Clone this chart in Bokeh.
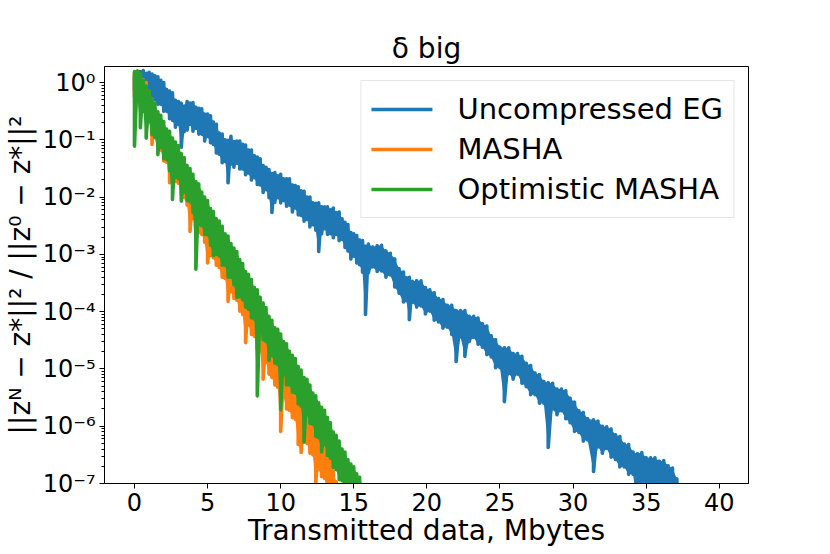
from bokeh.plotting import figure
from bokeh.models import Range1d, FixedTicker, CustomJSTickFormatter, Legend, LegendItem
from bokeh.embed import file_html
from bokeh.resources import INLINE

# ---------------- data ----------------
# y values are given as log10 of the relative error; each x has an upper and a lower
# value of the noisy trace (the noise band); spikes appear as deep lower values.
blue_x = [0.0, 0.2, 0.4, 0.6, 0.8, 1.0, 1.2, 1.4, 1.6, 1.8,
          2.0, 2.2, 2.4, 2.6, 2.8, 3.0, 3.2, 3.4, 3.6, 3.8,
          4.0, 4.2, 4.4, 4.6, 4.8, 5.0, 5.2, 5.4, 5.6, 5.8,
          6.0, 6.2, 6.4, 6.6, 6.8, 7.0, 7.2, 7.4, 7.6, 7.8,
          8.0, 8.2, 8.4, 8.6, 8.8, 9.0, 9.2, 9.4, 9.6, 9.8,
          10.0, 10.2, 10.4, 10.6, 10.8, 11.0, 11.2, 11.4, 11.6, 11.8,
          12.0, 12.2, 12.4, 12.6, 12.8, 13.0, 13.2, 13.4, 13.6, 13.8,
          14.0, 14.2, 14.4, 14.6, 14.8, 15.0, 15.2, 15.4, 15.6, 15.8,
          16.0, 16.3, 16.6, 16.9, 17.2, 17.5, 17.8, 18.1, 18.4, 18.6,
          18.8, 19.0, 19.3, 19.6, 19.9, 20.2, 20.5, 20.8, 21.1, 21.4,
          21.7, 22.0, 22.3, 22.6, 22.9, 23.2, 23.5, 23.8, 24.1, 24.4,
          24.7, 25.0, 25.3, 25.6, 25.9, 26.2, 26.5, 26.8, 27.1, 27.4,
          27.7, 28.0, 28.3, 28.6, 28.9, 29.2, 29.5, 29.8, 30.1, 30.4,
          30.7, 31.0, 31.4, 31.7, 32.0, 32.3, 32.6, 32.9, 33.2, 33.5,
          33.8, 34.1, 34.4, 34.7, 35.0, 35.3, 35.6, 35.9, 36.2, 36.5,
          36.8, 37.1, 37.3]
blue_hi_log10 = [0.10, 0.15, 0.19, 0.21, 0.16, 0.18, 0.15, 0.12, 0.10, 0.04,
                 0.00, -0.12, -0.15, -0.18, -0.31, -0.33, -0.36, -0.41, -0.33, -0.36,
                 -0.35, -0.43, -0.45, -0.46, -0.55, -0.55, -0.58, -0.69, -0.73, -0.88,
                 -0.90, -1.00, -1.01, -0.94, -1.03, -1.02, -1.02, -1.08, -1.09, -1.18,
                 -1.18, -1.28, -1.30, -1.33, -1.45, -1.48, -1.52, -1.59, -1.57, -1.63,
                 -1.60, -1.68, -1.68, -1.68, -1.79, -1.80, -1.82, -1.89, -1.90, -2.00,
                 -2.00, -2.10, -2.11, -2.10, -2.17, -2.17, -2.17, -2.22, -2.19, -2.27,
                 -2.26, -2.38, -2.44, -2.48, -2.62, -2.64, -2.67, -2.75, -2.76, -2.86,
                 -2.82, -2.87, -2.85, -2.84, -2.94, -2.98, -3.08, -3.25, -3.31, -3.41,
                 -3.40, -3.47, -3.46, -3.46, -3.58, -3.62, -3.67, -3.77, -3.79, -3.89,
                 -3.89, -3.98, -3.98, -3.98, -4.08, -4.08, -4.11, -4.21, -4.25, -4.42,
                 -4.49, -4.62, -4.63, -4.63, -4.73, -4.73, -4.78, -4.90, -4.94, -5.07,
                 -5.10, -5.22, -5.24, -5.25, -5.35, -5.35, -5.38, -5.51, -5.58, -5.73,
                 -5.76, -5.87, -5.89, -5.91, -6.00, -6.01, -6.05, -6.15, -6.18, -6.31,
                 -6.32, -6.45, -6.48, -6.46, -6.55, -6.55, -6.55, -6.61, -6.60, -6.69,
                 -6.73, -6.92, -7.04]
blue_lo_log10 = [-0.12, -0.06, -0.16, -0.18, -0.25, -0.20, -0.28, -0.30, -0.38, -0.38,
                 -0.50, -0.50, -0.63, -0.66, -0.78, -0.73, -1.13, -0.86, -0.83, -0.73,
                 -0.85, -0.80, -0.90, -0.90, -1.02, -0.94, -1.05, -1.08, -1.23, -1.25,
                 -1.40, -1.38, -1.75, -1.42, -1.48, -1.41, -1.51, -1.51, -1.61, -1.58,
                 -1.70, -1.66, -1.78, -1.79, -1.92, -1.87, -2.01, -2.27, -2.09, -2.01,
                 -2.10, -2.06, -2.16, -2.14, -2.26, -2.19, -2.31, -2.32, -2.42, -2.39,
                 -2.52, -2.48, -2.58, -2.95, -2.64, -2.55, -2.65, -2.64, -2.71, -2.65,
                 -2.76, -2.74, -2.88, -2.94, -3.08, -3.03, -3.15, -3.18, -3.31, -4.05,
                 -3.32, -3.22, -3.30, -3.29, -3.40, -3.36, -3.57, -3.68, -3.83, -3.81,
                 -4.14, -3.84, -3.92, -3.90, -4.04, -3.99, -4.15, -4.18, -4.29, -4.27,
                 -4.40, -4.87, -4.44, -4.78, -4.52, -4.45, -4.57, -4.62, -4.75, -4.79,
                 -4.98, -4.98, -5.57, -5.08, -5.18, -5.09, -5.25, -5.31, -5.45, -5.45,
                 -5.60, -5.60, -6.37, -5.70, -5.80, -5.73, -5.87, -5.94, -6.09, -6.11,
                 -6.26, -6.24, -6.79, -6.36, -6.47, -6.39, -6.54, -6.58, -6.71, -6.71,
                 -6.84, -6.84, -7.40, -6.96, -7.07, -6.99, -7.11, -7.11, -7.21, -7.18,
                 -7.26, -7.30, -7.40]

orange_x = [0.0, 0.2, 0.4, 0.6, 0.8, 1.0, 1.2, 1.4, 1.6, 1.8,
            2.0, 2.2, 2.4, 2.6, 2.8, 3.0, 3.2, 3.4, 3.6, 3.8,
            4.0, 4.2, 4.4, 4.6, 4.8, 5.0, 5.2, 5.4, 5.6, 5.8,
            6.0, 6.2, 6.4, 6.6, 6.8, 7.0, 7.2, 7.4, 7.6, 7.8,
            8.0, 8.2, 8.4, 8.6, 8.8, 9.0, 9.2, 9.4, 9.6, 9.8,
            10.0, 10.2, 10.4, 10.6, 10.8, 11.0, 11.2, 11.4, 11.6, 11.8,
            12.0, 12.2, 12.4, 12.6, 12.8, 13.0, 13.2, 13.4, 13.6, 13.8]
orange_hi_log10 = [0.16, 0.20, 0.14, 0.05, 0.00, -0.16, -0.29, -0.45, -0.55, -0.66,
                   -0.82, -0.88, -0.99, -1.11, -1.15, -1.28, -1.34, -1.50, -1.59, -1.69,
                   -1.84, -1.90, -2.02, -2.16, -2.22, -2.35, -2.41, -2.55, -2.63, -2.72,
                   -2.85, -2.90, -3.02, -3.14, -3.18, -3.31, -3.36, -3.52, -3.61, -3.70,
                   -3.83, -3.90, -4.02, -4.15, -4.22, -4.37, -4.44, -4.60, -4.68, -4.76,
                   -4.88, -4.94, -5.06, -5.19, -5.23, -5.36, -5.42, -5.57, -5.65, -5.73,
                   -5.87, -5.94, -6.07, -6.20, -6.25, -6.36, -6.42, -6.62, -6.78, -6.97]
orange_lo_log10 = [-0.25, -0.30, -0.42, -0.45, -0.58, -0.66, -1.08, -0.96, -1.12, -1.18,
                   -1.37, -1.39, -1.75, -1.60, -1.73, -1.76, -1.96, -2.01, -2.14, -2.60,
                   -2.37, -2.39, -2.62, -2.65, -2.79, -3.15, -3.02, -3.06, -3.19, -3.23,
                   -3.40, -3.42, -3.82, -3.65, -3.77, -3.80, -3.99, -4.05, -4.54, -4.23,
                   -4.40, -4.43, -4.65, -4.68, -5.18, -4.88, -5.09, -5.15, -5.28, -5.32,
                   -6.09, -5.49, -5.70, -5.72, -5.85, -5.88, -6.32, -6.46, -6.26, -6.30,
                   -6.47, -6.50, -7.00, -6.75, -6.88, -6.91, -7.11, -7.16, -7.34, -7.38]

green_x = [0.0, 0.2, 0.4, 0.6, 0.8, 1.0, 1.2, 1.4, 1.6, 1.8,
           2.0, 2.2, 2.4, 2.6, 2.8, 3.0, 3.2, 3.4, 3.6, 3.8,
           4.0, 4.2, 4.4, 4.6, 4.8, 5.0, 5.2, 5.4, 5.6, 5.8,
           6.0, 6.2, 6.4, 6.6, 6.8, 7.0, 7.2, 7.4, 7.6, 7.8,
           8.0, 8.2, 8.4, 8.6, 8.8, 9.0, 9.2, 9.4, 9.6, 9.8,
           10.0, 10.2, 10.4, 10.6, 10.8, 11.0, 11.2, 11.4, 11.6, 11.8,
           12.0, 12.2, 12.4, 12.6, 12.8, 13.0, 13.2, 13.4, 13.6, 13.8,
           14.0, 14.2, 14.4, 14.6, 14.8, 15.0, 15.2, 15.4, 15.6]
green_hi_log10 = [0.19, 0.20, 0.15, 0.04, -0.06, -0.14, -0.29, -0.36, -0.51, -0.57,
                  -0.68, -0.81, -0.85, -0.97, -1.04, -1.10, -1.24, -1.31, -1.45, -1.50,
                  -1.60, -1.73, -1.77, -1.91, -2.00, -2.06, -2.20, -2.25, -2.38, -2.42,
                  -2.51, -2.64, -2.68, -2.81, -2.89, -2.95, -3.09, -3.16, -3.30, -3.35,
                  -3.44, -3.58, -3.62, -3.75, -3.85, -3.93, -4.08, -4.15, -4.28, -4.31,
                  -4.39, -4.52, -4.56, -4.69, -4.76, -4.82, -4.96, -5.02, -5.15, -5.18,
                  -5.28, -5.42, -5.47, -5.59, -5.67, -5.72, -5.85, -5.94, -6.10, -6.16,
                  -6.26, -6.40, -6.45, -6.58, -6.66, -6.71, -6.83, -6.89, -7.03]
green_lo_log10 = [-1.11, -0.22, -0.79, -0.50, -0.97, -0.68, -0.91, -0.96, -1.26, -1.13,
                  -1.33, -1.35, -1.54, -2.04, -1.65, -1.68, -2.07, -1.91, -2.06, -2.08,
                  -2.27, -3.26, -2.48, -2.50, -2.65, -2.66, -2.84, -3.02, -3.00, -3.03,
                  -3.19, -3.19, -3.40, -3.40, -3.53, -3.75, -3.74, -3.79, -3.92, -3.96,
                  -4.11, -4.13, -5.47, -4.35, -4.49, -4.52, -4.85, -4.77, -4.90, -4.92,
                  -5.71, -5.07, -5.28, -5.28, -5.41, -5.42, -5.61, -5.65, -6.28, -5.80,
                  -5.95, -5.97, -6.18, -6.20, -6.45, -6.32, -6.51, -6.56, -6.72, -6.76,
                  -6.93, -6.95, -7.16, -7.18, -7.29, -7.30, -7.48, -7.50, -7.60]

series_labels = ["Uncompressed EG", "MASHA", "Optimistic MASHA"]
series_colors = ["#1f77b4", "#ff7f0e", "#2ca02c"]

x_ticks = [0, 5, 10, 15, 20, 25, 30, 35, 40]
y_tick_exponents = [-7, -6, -5, -4, -3, -2, -1, 0]

title_text = "δ big"
x_label = "Transmitted data, Mbytes"
y_label = "||zᴺ − z*||² / ||z⁰ − z*||²"

FONT = "DejaVu Sans"


def noisy_path(xs, hi, lo):
    assert len(xs) == len(hi) == len(lo)
    px, py = [], []
    for x, h, l in zip(xs, hi, lo):
        px += [x, x]
        py += [10 ** h, 10 ** l]
    return px, py


p = figure(frame_width=644, frame_height=417,
           x_range=Range1d(-2.05, 42), y_range=Range1d(1e-7, 10 ** 0.28),
           y_axis_type="log", title=title_text,
           output_backend="svg", toolbar_location=None,
           min_border_left=95, min_border_right=60, min_border_top=66, min_border_bottom=40)
p.background_fill_color = "white"
p.border_fill_color = "white"
p.outline_line_color = "black"
p.outline_line_width = 1
p.xgrid.visible = False
p.ygrid.visible = False

p.title.text_font = FONT
p.title.text_font_size = "28px"
p.title.text_font_style = "normal"
p.title.text_color = "black"
p.title.align = "center"
p.title.standoff = 4

renderers = []
for (xs, hi, lo), color in zip([(blue_x, blue_hi_log10, blue_lo_log10),
                                (orange_x, orange_hi_log10, orange_lo_log10),
                                (green_x, green_hi_log10, green_lo_log10)], series_colors):
    # the dense noise of each trace fills a band between its upper and lower values
    p.varea(x=xs, y1=[10 ** l for l in lo], y2=[10 ** h for h in hi],
            fill_color=color, fill_alpha=1.0)
    px, py = noisy_path(xs, hi, lo)
    r = p.line(px, py, line_color=color, line_width=3.6, line_join="round", line_cap="round")
    renderers.append(r)

legend = Legend(items=[LegendItem(label=lab, renderers=[r]) for lab, r in zip(series_labels, renderers)],
                location="top_right")
legend.label_text_font = FONT
legend.label_text_font_size = "29px"
legend.label_text_color = "black"
legend.glyph_width = 61
legend.glyph_height = 36
legend.label_height = 36
legend.label_standoff = 25
legend.spacing = 4
legend.padding = 10
legend.margin = 14
legend.border_line_color = "#cccccc"
legend.border_line_width = 1
legend.background_fill_alpha = 0.8
p.add_layout(legend)

for ax in (p.xaxis[0], p.yaxis[0]):
    ax.axis_line_color = "black"
    ax.major_tick_line_color = "black"
    ax.minor_tick_line_color = "black"
    ax.major_tick_in = 0
    ax.major_tick_out = 5
    ax.minor_tick_in = 0
    ax.minor_tick_out = 3
    ax.major_label_text_font = FONT
    ax.major_label_text_font_size = "24px"
    ax.major_label_text_color = "black"
    ax.axis_label_text_font = FONT
    ax.axis_label_text_font_size = "28px"
    ax.axis_label_text_font_style = "normal"
    ax.axis_label_text_color = "black"
    ax.major_label_standoff = 4

p.xaxis.axis_label = x_label
p.xaxis.axis_label_standoff = 0
p.xaxis.ticker = FixedTicker(ticks=x_ticks, minor_ticks=[])

p.yaxis.axis_label = y_label
p.yaxis.axis_label_standoff = 3
y_major = [10.0 ** e for e in y_tick_exponents]
y_minor = [m * 10.0 ** e for e in y_tick_exponents for m in range(2, 10)]
p.yaxis.ticker = FixedTicker(ticks=y_major, minor_ticks=y_minor)
p.yaxis.formatter = CustomJSTickFormatter(code="""
const e = Math.round(Math.log10(tick));
const m = {"-": "⁻", "0": "⁰", "1": "¹", "2": "²", "3": "³", "4": "⁴",
           "5": "⁵", "6": "⁶", "7": "⁷", "8": "⁸", "9": "⁹"};
return "10" + String(e).split("").map(c => m[c]).join("");
""")

open("out.html", "w").write(file_html(p, INLINE))
